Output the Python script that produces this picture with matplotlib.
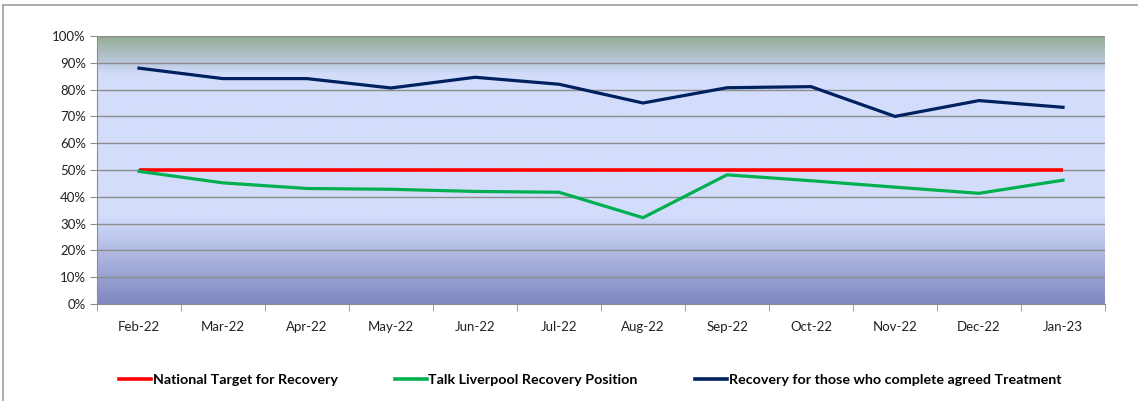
import numpy as np
import matplotlib
matplotlib.use("Agg")
import matplotlib.pyplot as plt
from matplotlib.colors import LinearSegmentedColormap
from matplotlib.lines import Line2D
from matplotlib.ticker import PercentFormatter, FixedLocator

months = ["Feb-22", "Mar-22", "Apr-22", "May-22", "Jun-22", "Jul-22",
          "Aug-22", "Sep-22", "Oct-22", "Nov-22", "Dec-22", "Jan-23"]
national_target = [50, 50, 50, 50, 50, 50, 50, 50, 50, 50, 50, 50]
talk_liverpool = [49.5, 45.2, 43.1, 42.8, 42.0, 41.7, 32.2, 48.2, 46.0, 43.6, 41.3, 46.2]
completed_treatment = [88.0, 84.1, 84.1, 80.6, 84.6, 82.0, 75.0, 80.7, 81.1, 70.0, 75.9, 73.4]

plt.rcParams["font.family"] = ["Lato", "DejaVu Sans"]

W, H = 1138, 401
fig = plt.figure(figsize=(W / 100, H / 100), dpi=100)
ax = fig.add_axes([97 / W, 1 - 304 / H, (1105 - 97) / W, (304 - 36) / H])

x = np.arange(len(months))

# background gradient (bottom -> top)
bg = LinearSegmentedColormap.from_list("bg", [
    (0.00, "#8087c0"),
    (0.33, "#d3ddfb"),
    (0.86, "#d3ddfb"),
    (0.90, "#bccadf"),
    (1.00, "#96ad96"),
])
grad = np.linspace(0, 1, 256).reshape(-1, 1)
ax.imshow(grad, cmap=bg, aspect="auto", origin="lower",
          extent=[-0.5, len(months) - 0.5, 0, 100], zorder=0)

ax.set_xlim(-0.5, len(months) - 0.5)
ax.set_ylim(0, 100)
ax.yaxis.set_major_locator(FixedLocator(np.arange(0, 101, 10)))
ax.yaxis.set_major_formatter(PercentFormatter(decimals=0))
ax.grid(axis="y", color="#8c8c8c", lw=1, zorder=1)
ax.set_axisbelow(False)

ax.plot(x, national_target, color="#ff0000", lw=2.6, zorder=3, solid_capstyle="butt")
ax.plot(x, talk_liverpool, color="#00b050", lw=2.3, zorder=3)
ax.plot(x, completed_treatment, color="#002060", lw=2.3, zorder=4)

ax.set_xticks(x)
ax.set_xticklabels(months)
ax.set_xticks(np.arange(-0.5, len(months), 1), minor=True)
ax.tick_params(axis="x", which="major", length=0, pad=12, labelsize=9.5, labelcolor="#222222")
ax.tick_params(axis="x", which="minor", length=5, color="#8c8c8c")
ax.tick_params(axis="y", length=5, color="#8c8c8c", labelsize=9.5, labelcolor="#222222", pad=3)
for s in ["top", "right"]:
    ax.spines[s].set_visible(False)
for s in ["left", "bottom"]:
    ax.spines[s].set_color("#8c8c8c")

handles = [
    Line2D([], [], color="#ff0000", lw=2.6),
    Line2D([], [], color="#00b050", lw=2.6),
    Line2D([], [], color="#002060", lw=2.6),
]
labels = ["National Target for Recovery", "Talk Liverpool Recovery Position",
          "Recovery for those who complete agreed Treatment"]
fig.legend(handles, labels, loc="center", bbox_to_anchor=(590 / W, 1 - 380 / H),
           ncol=3, frameon=False, handlelength=2.25, handletextpad=0.1,
           columnspacing=4.0, prop={"weight": "bold", "size": 10.3})

# outer chart border
fig.add_artist(Line2D([3 / W, 3 / W], [0, 1 - 5 / H], color="#a0a0a0", lw=1.2))
fig.add_artist(Line2D([3 / W, 1], [1 - 5 / H, 1 - 5 / H], color="#a0a0a0", lw=1.2))

fig.savefig("out.png", dpi=100)
